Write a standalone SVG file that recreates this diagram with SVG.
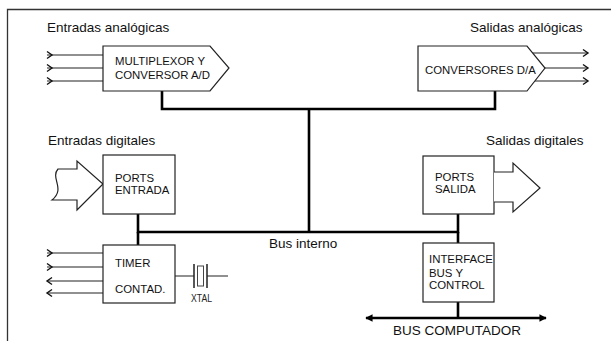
<svg xmlns="http://www.w3.org/2000/svg" width="611" height="341" viewBox="0 0 611 341">
<style>
.lbl{font-family:"Liberation Sans",Arial,sans-serif;font-size:13.5px;fill:#111}
.bt{font-family:"Liberation Sans",Arial,sans-serif;font-size:11.4px;fill:#111}
.box{fill:#fff;stroke:#222;stroke-width:1.2}
.bus{fill:none;stroke:#000;stroke-width:2.6}
.thin{fill:none;stroke:#222;stroke-width:1.2}
.chev{fill:none;stroke:#111;stroke-width:1.4}
</style>
<defs>
<path id="chR" class="chev" d="M-5,-3.5 L0,0 L-5,3.5"/>
<path id="chL" class="chev" d="M5,-3.5 L0,0 L5,3.5"/>
<marker id="tri" viewBox="0 0 10 10" refX="9" refY="5" markerWidth="2.8" markerHeight="2.8" orient="auto-start-reverse">
<path d="M0,0 L10,5 L0,10 z" fill="#000"/>
</marker>
</defs>
<rect width="611" height="341" fill="#fff"/>
<path d="M7.5,341 V9.5 H611" fill="none" stroke="#333" stroke-width="1.3"/>

<g id="labels">
<text class="lbl" x="47" y="32">Entradas analógicas</text>
<text class="lbl" x="470" y="32">Salidas analógicas</text>
<text class="lbl" x="48" y="145">Entradas digitales</text>
<text class="lbl" x="486" y="145">Salidas digitales</text>
<text class="lbl" x="269" y="248">Bus interno</text>
<text class="lbl" x="393" y="335">BUS COMPUTADOR</text>
</g>

<g id="connectors">
<path class="bus" d="M162,91 V109 H495 V91"/>
<path class="bus" d="M309,109 V232"/>
<path class="bus" d="M138,214 V232 H458 V214"/>
<path class="bus" d="M138,232 V245"/>
<path class="bus" d="M458,232 V243"/>
<path class="bus" d="M458,302 V318"/>
<path class="bus" d="M366,318 H546" marker-start="url(#tri)" marker-end="url(#tri)"/>
<!-- analog inputs -->
<path class="thin" d="M47,55 H103 M47,68 H103 M47,81 H103"/>
<use href="#chR" x="52" y="55"/><use href="#chR" x="52" y="68"/><use href="#chR" x="52" y="81"/>
<!-- analog outputs -->
<path class="thin" d="M531,53 H588 M545,68 H588 M535,81 H588"/>
<use href="#chR" x="588" y="53"/><use href="#chR" x="588" y="68"/><use href="#chR" x="588" y="81"/>
<!-- timer lines -->
<path class="thin" d="M47,253 H103 M47,267 H103 M47,281 H103 M47,293 H103"/>
<use href="#chR" x="52" y="253"/><use href="#chR" x="52" y="267"/>
<use href="#chL" x="47" y="281"/><use href="#chL" x="47" y="293"/>
</g>

<g id="mux">
<path class="box" d="M103,46 H210 L229,68 L210,91 H103 Z"/>
<text class="bt" x="115" y="65">MULTIPLEXOR Y</text>
<text class="bt" x="115" y="79">CONVERSOR A/D</text>
</g>

<g id="dac">
<path class="box" d="M418,46 H527 L545,68 L527,91 H418 Z"/>
<text class="bt" x="425" y="74">CONVERSORES D/A</text>
</g>

<g id="ports-entrada">
<path class="box" d="M58,169 C50,178 66,189 52,200 H77 V210 L103,184 L77,161 V169 Z"/>
<rect class="box" x="103" y="155" width="72" height="59"/>
<text class="bt" x="115" y="182">PORTS</text>
<text class="bt" x="115" y="194">ENTRADA</text>
</g>

<g id="ports-salida">
<rect class="box" x="423" y="156" width="71" height="58"/>
<path class="box" d="M494,172 H513 V163 L540,188 L513,212 V202 H494"/>
<text class="bt" x="435" y="181">PORTS</text>
<text class="bt" x="435" y="193">SALIDA</text>
</g>

<g id="timer">
<rect class="box" x="103" y="245" width="72" height="58"/>
<text class="bt" x="115" y="267">TIMER</text>
<text class="bt" x="115" y="293">CONTAD.</text>
</g>

<g id="xtal">
<path class="thin" d="M175,276 H194 M207,276 H228"/>
<path fill="none" stroke="#222" stroke-width="1.5" d="M194,264 V288 M207,264 V288"/>
<rect x="197.5" y="266" width="6" height="20" fill="#fff" stroke="#444" stroke-width="1"/>
<text x="191" y="302" font-family="'Liberation Sans Narrow','Liberation Sans',Arial,sans-serif" font-size="10" textLength="21" lengthAdjust="spacingAndGlyphs" fill="#222">XTAL</text>
</g>

<g id="interface">
<rect class="box" x="423" y="243" width="71" height="59"/>
<text class="bt" x="429" y="263">INTERFACE</text>
<text class="bt" x="429" y="277">BUS Y</text>
<text class="bt" x="429" y="289">CONTROL</text>
</g>
</svg>
